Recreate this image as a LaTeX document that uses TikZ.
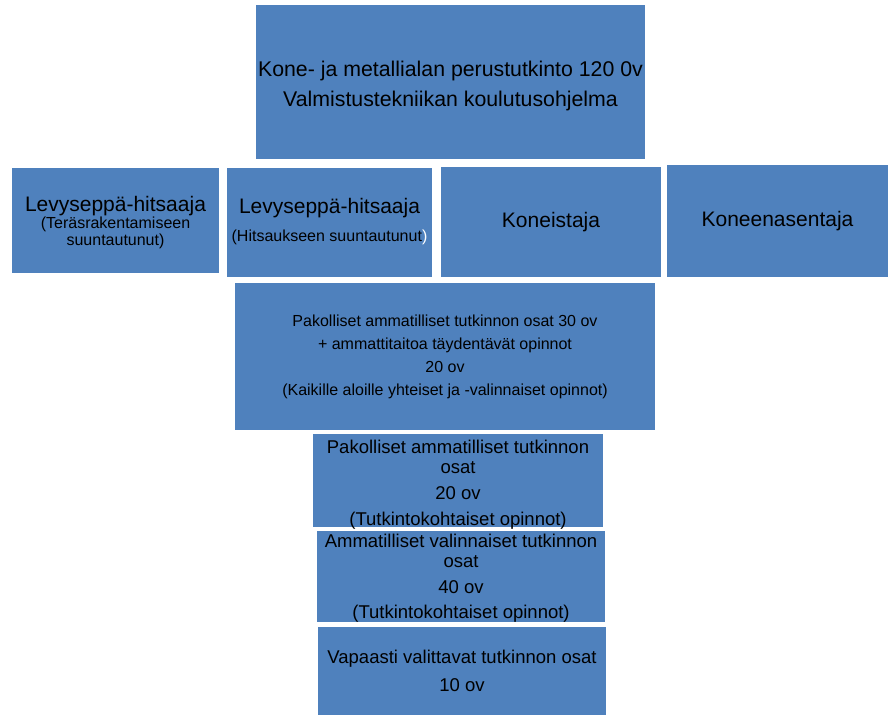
\documentclass[tikz,border=0pt]{standalone}
\usepackage{fontspec}
\setmainfont{Liberation Sans}
\definecolor{boxblue}{HTML}{4F81BD}
\begin{document}
\begin{tikzpicture}[x=1pt,y=-1pt,
  box/.style={fill=boxblue,draw=none,inner sep=0pt,align=center,text=black},
  txt/.style={inner sep=0pt,align=center,text=black},
  ftop/.style={font=\fontsize{21.3}{30}\selectfont},
  frow/.style={font=\fontsize{21}{22}\selectfont},
  fmid/.style={font=\fontsize{16}{23}\selectfont},
  flow/.style={font=\fontsize{18.5}{20}\selectfont}]
\useasboundingbox (0,0) rectangle (888,715);
\node[box,minimum width=389pt,minimum height=154pt] (top) at (450.5,82) {};
\node[txt,ftop] (topt) at ([yshift=-3.5pt]top.center)
  {Kone- ja metallialan perustutkinto 120 0v\\Valmistustekniikan koulutusohjelma};
\node[box,minimum width=207pt,minimum height=105pt] (a) at (115.5,220) {};
\node[txt,font=\fontsize{16}{17}\selectfont] (at) at ([yshift=-3pt]a.center)
  {{\fontsize{21}{21}\selectfont Levyseppä-hitsaaja}\\(Teräsrakentamiseen\\suuntautunut)};
\node[box,minimum width=205pt,minimum height=109pt,font=\fontsize{16}{28}\selectfont] (b) at (329.5,222)
  {{\fontsize{21}{28}\selectfont Levyseppä-hitsaaja}\\(Hitsaukseen suuntautunut\textcolor{white}{)}};
\node[box,frow,minimum width=220pt,minimum height=110pt] (c) at (551,222) {Koneistaja};
\node[box,frow,minimum width=221pt,minimum height=112pt] (d) at (777.5,221) {Koneenasentaja};
\node[box,fmid,minimum width=420pt,minimum height=147pt] (e) at (445,356.5)
  {Pakolliset ammatilliset tutkinnon osat 30 ov\\+ ammattitaitoa täydentävät opinnot\\20 ov\\(Kaikille aloille yhteiset ja -valinnaiset opinnot)};
\node[box,minimum width=290pt,minimum height=93pt] (f) at (458,480.5) {};
\node[txt,flow] (ft) at ([yshift=-4pt]f.center)
  {Pakolliset ammatilliset tutkinnon\\osat\\[6.5pt]20 ov\\[6pt](Tutkintokohtaiset opinnot)};
\node[box,minimum width=288pt,minimum height=91pt] (g) at (461,576.5) {};
\node[txt,flow] (gt) at ([yshift=-1.5pt]g.center)
  {Ammatilliset valinnaiset tutkinnon\\osat\\[6.5pt]40 ov\\[5pt](Tutkintokohtaiset opinnot)};
\node[box,flow,minimum width=288pt,minimum height=88pt] (h) at (462,671)
  {Vapaasti valittavat tutkinnon osat\\[8pt]10 ov};
\end{tikzpicture}
\end{document}
